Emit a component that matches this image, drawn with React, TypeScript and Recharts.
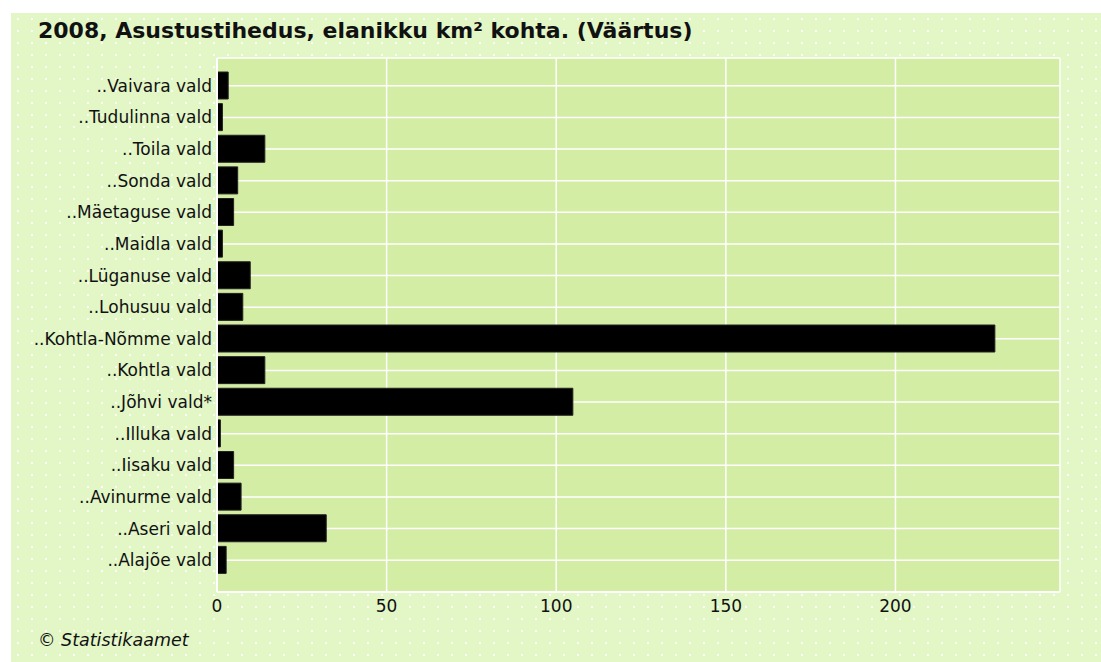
import { Bar, BarChart, CartesianGrid, XAxis, YAxis } from "recharts";

const regions = [
  "..Vaivara vald",
  "..Tudulinna vald",
  "..Toila vald",
  "..Sonda vald",
  "..Mäetaguse vald",
  "..Maidla vald",
  "..Lüganuse vald",
  "..Lohusuu vald",
  "..Kohtla-Nõmme vald",
  "..Kohtla vald",
  "..Jõhvi vald*",
  "..Illuka vald",
  "..Iisaku vald",
  "..Avinurme vald",
  "..Aseri vald",
  "..Alajõe vald",
];

const density = [3.3, 1.6, 14.1, 6.1, 4.9, 1.6, 9.8, 7.6, 229.3, 14.1, 104.9, 1.0, 4.9, 7.1, 32.2, 2.7];

const xTicks = [0, 50, 100, 150, 200];

const data = regions.map((name, i) => ({ name, value: density[i] }));

const font = "'DejaVu Sans', Verdana, sans-serif";

export default function App() {
  return (
    <div
      style={{
        position: "absolute",
        left: 11,
        top: 13,
        width: 1090,
        height: 649,
        backgroundColor: "#e2f6c6",
        backgroundImage:
          "radial-gradient(circle, rgba(255,255,255,0.8) 1px, transparent 1.4px)",
        backgroundSize: "14px 12px",
        fontFamily: font,
      }}
    >
      <div
        style={{
          position: "absolute",
          left: 27,
          top: 5,
          fontSize: 22,
          fontWeight: "bold",
          color: "#111",
          whiteSpace: "nowrap",
        }}
      >
        2008, Asustustihedus, elanikku km² kohta. (Väärtus)
      </div>
      <BarChart
        layout="vertical"
        width={1090}
        height={649}
        data={data}
        margin={{ top: 45, right: 41, bottom: 40, left: 0 }}
        barSize={27}
      >
        <CartesianGrid fill="#d3eda5" stroke="#ffffff" strokeWidth={1.5} />
        <XAxis
          type="number"
          dataKey="value"
          domain={[0, 248.5]}
          ticks={xTicks}
          height={30}
          axisLine={{ stroke: "#ffffff", strokeWidth: 2 }}
          tickLine={false}
          tickSize={0}
          tickMargin={8}
          tick={{ fill: "#111", fontSize: 17, fontFamily: font }}
        />
        <YAxis
          type="category"
          dataKey="name"
          width={206}
          padding={{ top: 12, bottom: 16 }}
          axisLine={{ stroke: "#ffffff", strokeWidth: 2 }}
          tickLine={false}
          tickSize={0}
          tickMargin={5}
          interval={0}
          tick={{ fill: "#111", fontSize: 17, fontFamily: font }}
        />
        <Bar dataKey="value" fill="#000000" stroke="#222" isAnimationActive={false} />
      </BarChart>
      <div
        style={{
          position: "absolute",
          left: 27,
          top: 617,
          fontSize: 17.5,
          fontStyle: "italic",
          color: "#111",
          whiteSpace: "nowrap",
        }}
      >
        © Statistikaamet
      </div>
    </div>
  );
}
